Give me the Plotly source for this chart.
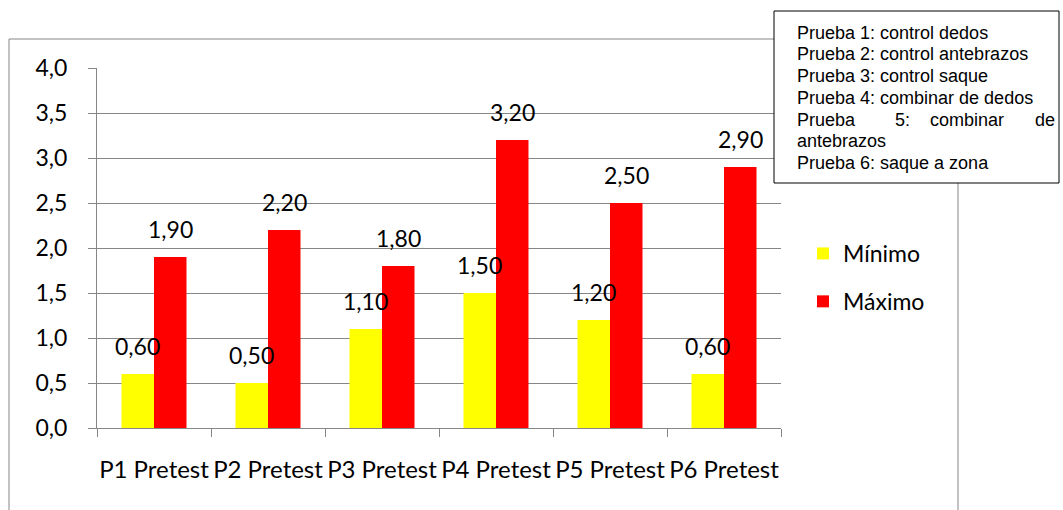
import plotly.graph_objects as go

# Pretest scores per test: minimum and maximum
categories = ["P1 Pretest", "P2 Pretest", "P3 Pretest", "P4 Pretest", "P5 Pretest", "P6 Pretest"]
minimo = [0.60, 0.50, 1.10, 1.50, 1.20, 0.60]
maximo = [1.90, 2.20, 1.80, 3.20, 2.50, 2.90]
y_ticks = [0.0, 0.5, 1.0, 1.5, 2.0, 2.5, 3.0, 3.5, 4.0]

notes = [
    "Prueba 1: control dedos",
    "Prueba 2: control antebrazos",
    "Prueba 3: control saque",
    "Prueba 4: combinar de dedos",
    None,  # justified line, built word by word below
    "antebrazos",
    "Prueba 6: saque a zona",
]
justified_words = ["Prueba", "5:", "combinar", "de"]

W, H = 1063, 510
ML, MR, MT, MB = 97, 282, 68, 82
PW, PH = W - ML - MR, H - MT - MB

def px(x):
    return (x - ML) / PW

def py(y):
    return 1 - (y - MT) / PH

FONT = "Lato"
GRID = "#868686"

fig = go.Figure()
fig.add_trace(go.Bar(x=categories, y=minimo, name="Mínimo", marker_color="#FFFF00",
                     marker_line_width=0, legendgroup="a"))
fig.add_trace(go.Bar(x=categories, y=maximo, name="Máximo", marker_color="#FF0000",
                     marker_line_width=0, legendgroup="b"))

def fmt(v):
    return f"{v:.2f}".replace(".", ",")

annotations = []
for cat, a, b in zip(categories, minimo, maximo):
    for val, shift in ((a, -16.5), (b, 16.5)):
        annotations.append(dict(x=cat, y=val, xref="x", yref="y", text=fmt(val),
                                showarrow=False, xshift=shift, yanchor="bottom", yshift=12,
                                font=dict(family=FONT, size=23, color="#000000")))

# note box text
line_y = [33, 54.5, 76, 98, 120, 141, 163]
for txt, yy in zip(notes, line_y):
    if txt is None:
        continue
    annotations.append(dict(x=px(795), y=py(yy), xref="paper", yref="paper", text=txt,
                            showarrow=False, xanchor="left", yanchor="middle",
                            font=dict(family="Liberation Sans", size=18, color="#000000")))
word_x = [(795, "left"), (893, "left"), (928, "left"), (1057, "right")]
for w, (xx, anc) in zip(justified_words, word_x):
    annotations.append(dict(x=px(xx), y=py(line_y[4]), xref="paper", yref="paper", text=w,
                            showarrow=False, xanchor=anc, yanchor="middle",
                            font=dict(family="Liberation Sans", size=18, color="#000000")))

shapes = [
    # chart frame
    dict(type="rect", xref="paper", yref="paper", x0=px(9), x1=px(958), y0=py(520), y1=py(39),
         line=dict(color=GRID, width=1), fillcolor="rgba(0,0,0,0)", layer="below"),
    # note box
    dict(type="rect", xref="paper", yref="paper", x0=px(774), x1=px(1059), y0=py(183), y1=py(11),
         line=dict(color="#000000", width=1), fillcolor="#FFFFFF", layer="above"),
]

fig.update_layout(
    width=W, height=H,
    margin=dict(l=ML, r=MR, t=MT, b=MB, pad=0, autoexpand=False),
    paper_bgcolor="#FFFFFF", plot_bgcolor="#FFFFFF",
    separators=",.",
    barmode="group", bargap=0.43, bargroupgap=0,
    font=dict(family=FONT, size=23, color="#000000"),
    showlegend=True,
    legend=dict(x=px(803), y=py(232), xanchor="left", yanchor="top",
                font=dict(family=FONT, size=23, color="#000000"),
                traceorder="grouped", tracegroupgap=15, bgcolor="rgba(0,0,0,0)"),
    annotations=annotations,
    shapes=shapes,
)
fig.update_xaxes(type="category", showgrid=False, showline=True, linecolor=GRID, linewidth=1,
                 ticks="outside", tickson="boundaries", ticklen=8, tickcolor=GRID,
                 tickangle=0, automargin=False,
                 tickfont=dict(family=FONT, size=24, color="#000000"), ticklabelstandoff=20)
fig.update_yaxes(range=[0, 4], tickvals=y_ticks, tickformat=".1f", showgrid=True, gridcolor=GRID,
                 gridwidth=1, showline=True, linecolor=GRID, linewidth=1, ticks="outside",
                 ticklen=8, tickcolor=GRID, zeroline=False, automargin=False,
                 tickfont=dict(family=FONT, size=23, color="#000000"), ticklabelstandoff=16)

fig.write_html("out.html")
